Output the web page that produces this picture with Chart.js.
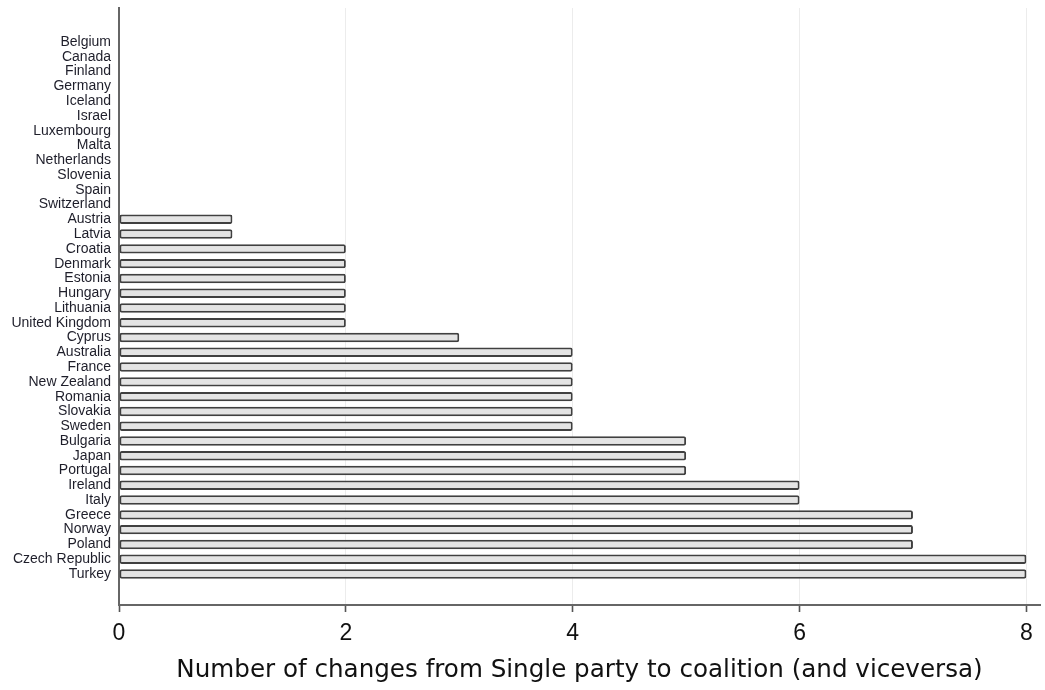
<!DOCTYPE html>
<html>
<head>
<meta charset="utf-8">
<script src="https://cdn.jsdelivr.net/npm/chart.js@4"></script>
<style>
  html, body { margin: 0; padding: 0; background: #fff; }
  #wrap { width: 1045px; height: 690px; position: relative; }
</style>
</head>
<body>
<div id="wrap"><canvas id="c"></canvas></div>
<script>
const countries = [
  "Belgium", "Canada", "Finland", "Germany", "Iceland", "Israel", "Luxembourg",
  "Malta", "Netherlands", "Slovenia", "Spain", "Switzerland", "Austria", "Latvia",
  "Croatia", "Denmark", "Estonia", "Hungary", "Lithuania", "United Kingdom",
  "Cyprus", "Australia", "France", "New Zealand", "Romania", "Slovakia", "Sweden",
  "Bulgaria", "Japan", "Portugal", "Ireland", "Italy", "Greece", "Norway",
  "Poland", "Czech Republic", "Turkey"
];
const changes = [
  0, 0, 0, 0, 0, 0, 0,
  0, 0, 0, 0, 0, 1, 1,
  2, 2, 2, 2, 2, 2,
  3, 4, 4, 4, 4, 4, 4,
  5, 5, 5, 6, 6, 7, 7,
  7, 8, 8
];
const xTicks = [0, 2, 4, 6, 8];
const xTitle = "Number of changes from Single party to coalition (and viceversa)";

const points = changes.map((v, i) => ({ x: v, y: i }));

new Chart(document.getElementById('c'), {
  type: 'bar',
  data: {
    datasets: [{
      data: points,
      backgroundColor: '#e4e4e4',
      borderColor: '#404040',
      borderWidth: 2,
      borderSkipped: false,
      borderRadius: 2,
      barPercentage: 0.64,
      categoryPercentage: 1
    }]
  },
  options: {
    indexAxis: 'y',
    responsive: true,
    maintainAspectRatio: false,
    animation: false,
    layout: { padding: { top: 8, right: 5, left: 0, bottom: 0 } },
    plugins: { legend: { display: false }, tooltip: { enabled: false } },
    scales: {
      y: {
        type: 'linear',
        reverse: true,
        offset: false,
        min: -2.3,
        max: 38.1,
        afterBuildTicks: s => { s.ticks = countries.map((c, i) => ({ value: i })); },
        afterFit: s => { s.width = 119; s.paddingTop = 0; s.paddingBottom = 0; },
        grid: { display: false, drawTicks: false },
        border: { display: true, color: '#666', width: 2 },
        ticks: {
          autoSkip: false,
          padding: 8,
          color: '#1e1e2a',
          font: { family: 'Liberation Sans, Arial, sans-serif', size: 14 },
          callback: v => countries[v] !== undefined ? countries[v] : ''
        }
      },
      x: {
        type: 'linear',
        min: 0,
        max: 8.12,
        afterBuildTicks: s => { s.ticks = xTicks.map(v => ({ value: v })); },
        afterFit: s => { s.height = 85; },
        grid: {
          color: '#ececec',
          lineWidth: 1,
          drawTicks: true,
          tickLength: 7,
          tickColor: '#555',
          tickWidth: 1.6
        },
        border: { display: true, color: '#666', width: 2 },
        ticks: {
          padding: 8,
          color: '#111',
          font: { family: 'Liberation Sans, Arial, sans-serif', size: 23 }
        },
        title: {
          display: true,
          text: xTitle,
          color: '#111',
          padding: { top: 4, bottom: 5 },
          font: { family: 'DejaVu Sans, sans-serif', size: 24.6 }
        }
      }
    }
  }
});
</script>
</body>
</html>
